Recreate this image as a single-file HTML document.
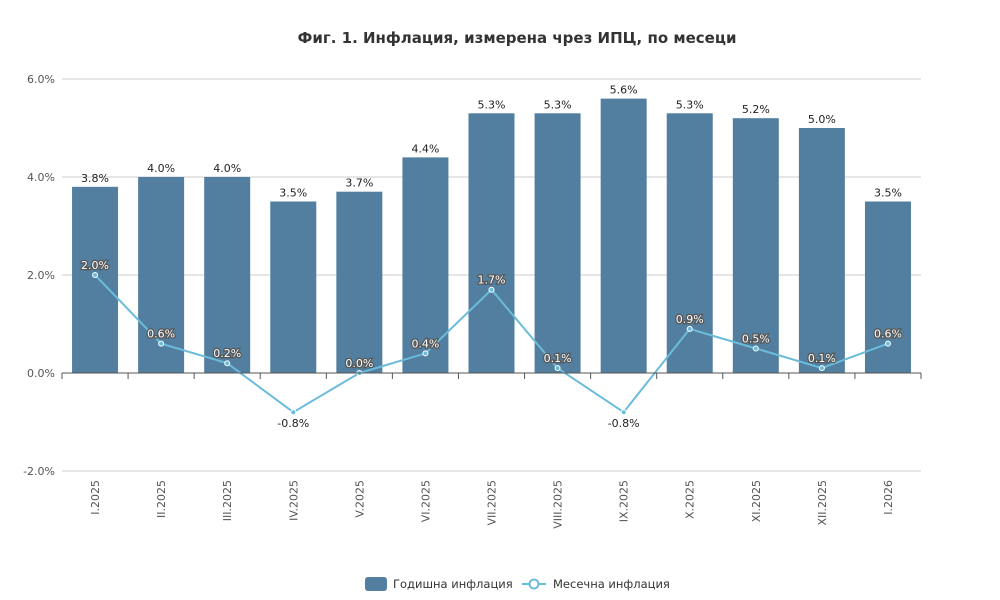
<!DOCTYPE html>
<html><head><meta charset="utf-8"><style>
body{margin:0;background:#fff;}
svg{display:block;font-family:"DejaVu Sans","Liberation Sans",sans-serif;}
</style></head><body>
<svg id="chart" width="1000" height="600">
<text x="517" y="43" text-anchor="middle" font-size="15" font-weight="bold" fill="#333">Фиг. 1. Инфлация, измерена чрез ИПЦ, по месеци</text>
<g id="grid"></g><g id="bars"></g><g id="line"></g><g id="labels"></g><g id="xaxis"></g>
<g>
<g><rect x="365" y="577" width="22" height="14" rx="3" fill="#527f9f"/><text x="393" y="588" font-size="11.5" fill="#333">Годишна инфлация</text></g>
<g><line x1="522" y1="584" x2="546" y2="584" stroke="#6bbbdb" stroke-width="2"/><circle cx="534" cy="584" r="4.5" fill="#fff" stroke="#6bbbdb" stroke-width="2"/><text x="553" y="588" font-size="11.5" fill="#333">Месечна инфлация</text></g>
</g>
</svg>
<script>
const categories=["I.2025","II.2025","III.2025","IV.2025","V.2025","VI.2025","VII.2025","VIII.2025","IX.2025","X.2025","XI.2025","XII.2025","I.2026"];
const annual=[3.8,4.0,4.0,3.5,3.7,4.4,5.3,5.3,5.6,5.3,5.2,5.0,3.5];
const monthly=[2.0,0.6,0.2,-0.8,0.0,0.4,1.7,0.1,-0.8,0.9,0.5,0.1,0.6];
const yTicks=[-2,0,2,4,6];
const NS="http://www.w3.org/2000/svg";
const X0=62,X1=921,Y0=373,PX=49;
const bw=(X1-X0)/categories.length;
const y=v=>Y0-v*PX;
const xc=i=>X0+bw*(i+0.5);
function mk(t,a,p){const e=document.createElementNS(NS,t);for(const k in a)e.setAttribute(k,a[k]);p.appendChild(e);return e;}
const G=document.getElementById('grid'),B=document.getElementById('bars'),L=document.getElementById('line'),LB=document.getElementById('labels'),XA=document.getElementById('xaxis');
yTicks.forEach(t=>{
 const l=mk('line',{x1:X0,x2:X1,y1:y(t),y2:y(t),stroke:'#ccc','stroke-width':1},G);
 
 
 const tx=mk('text',{x:X0-7,y:y(t)+4,'text-anchor':'end','font-size':11,fill:'#555'},G);
 tx.textContent=t.toFixed(1)+'%';
 
 
});
const ax=mk('line',{x1:X0,x2:X1,y1:Y0,y2:Y0,stroke:'#555','stroke-width':1},XA);


categories.forEach((c,i)=>{
 const tk=mk('line',{x1:X0+bw*i,x2:X0+bw*i,y1:Y0,y2:Y0+6,stroke:'#555'},XA);
 
 
 const tx=mk('text',{x:0,y:0,'text-anchor':'end','font-size':11,fill:'#555',transform:`translate(${xc(i)+4},480) rotate(-90)`},XA);
 tx.textContent=c;
 
 
});
mk('line',{x1:X1,x2:X1,y1:Y0,y2:Y0+6,stroke:'#555'},XA);
annual.forEach((v,i)=>{
 const w=46;
 const r=mk('rect',{x:xc(i)-w/2,y:Math.min(y(v),Y0),width:w,height:Math.abs(v)*PX,fill:'#527f9f'},B);
 
 
 const t=mk('text',{x:xc(i),y:y(v)-5,'text-anchor':'middle','font-size':11,fill:'#222'},LB);
 t.textContent=v.toFixed(1)+'%';
 
 
});
const pl=mk('polyline',{points:monthly.map((v,i)=>xc(i)+','+y(v)).join(' '),fill:'none',stroke:'#6bbbdb','stroke-width':2},L);


monthly.forEach((v,i)=>{
 const c=mk('circle',{cx:xc(i),cy:y(v),r:2.5,fill:'#6bbbdb',stroke:'#fff','stroke-width':1},L);
 
 
 let t;
 if(v<0){t=mk('text',{x:xc(i),y:y(v)+15,'text-anchor':'middle','font-size':11,fill:'#222'},LB);}
 else{t=mk('text',{x:xc(i),y:y(v)-6,'text-anchor':'middle','font-size':11,fill:'#fff',stroke:'#555','stroke-width':2.5,'paint-order':'stroke'},LB);}
 t.textContent=v.toFixed(1)+'%';
 
 
});
</script>
</body></html>
